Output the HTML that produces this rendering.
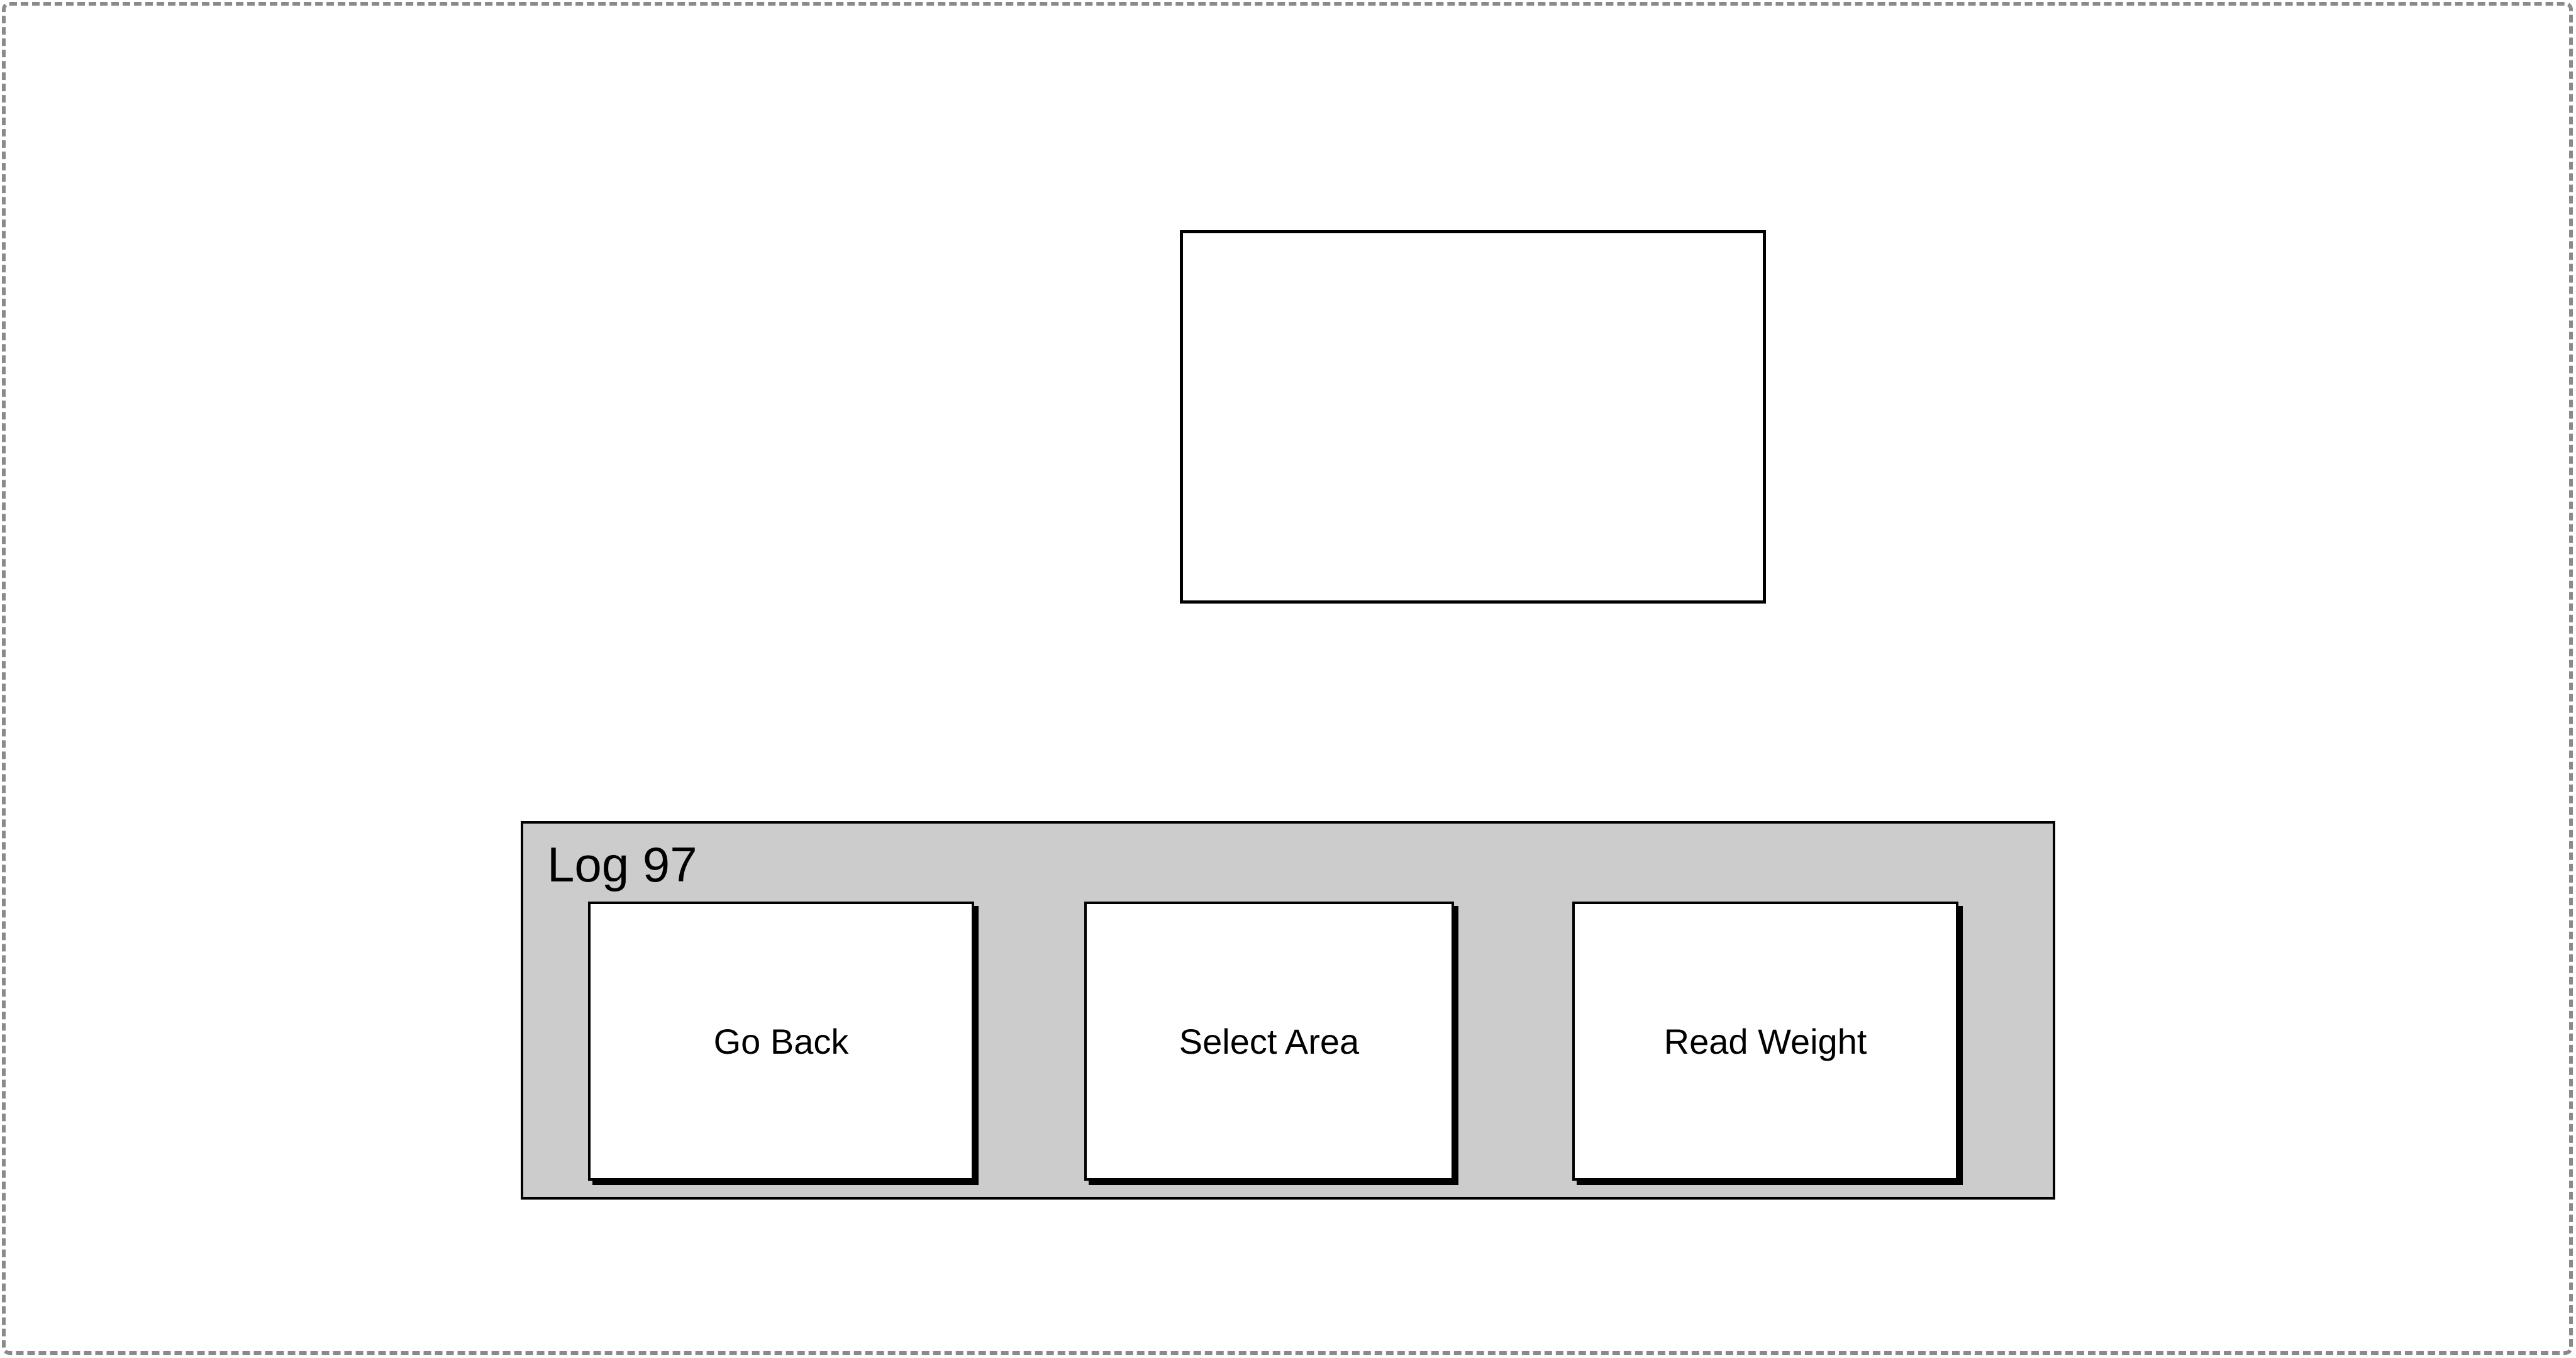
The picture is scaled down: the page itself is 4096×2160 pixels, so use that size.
<!DOCTYPE html>
<html><head><meta charset="utf-8"><style>
html,body{margin:0;padding:0;background:#fff;}
body{width:4096px;height:2160px;position:relative;overflow:hidden;font-family:"Liberation Sans",sans-serif;}
.a{position:absolute;box-sizing:border-box;}
.btn{background:#fff;border:4px solid #000;box-shadow:7px 7px 0 #000;display:flex;align-items:center;justify-content:center;font-size:56px;color:#000;}
</style></head><body>
<div class="a" style="left:3px;top:3px;width:4088px;height:2152px;border:6px dashed #8a8a8a;border-radius:12px;"></div>
<div class="a" style="left:1876px;top:366px;width:932px;height:594px;border:5px solid #000;background:#fff;"></div>
<div class="a" style="left:828px;top:1306px;width:2440px;height:602px;border:4px solid #000;background:#cccccc;"></div>
<div class="a" style="left:870px;top:1330px;font-size:78px;color:#000;">Log 97</div>
<div class="a btn" style="left:935px;top:1434px;width:614px;height:444px;">Go Back</div>
<div class="a btn" style="left:1724px;top:1434px;width:588px;height:444px;">Select Area</div>
<div class="a btn" style="left:2500px;top:1434px;width:614px;height:444px;">Read Weight</div>
</body></html>
